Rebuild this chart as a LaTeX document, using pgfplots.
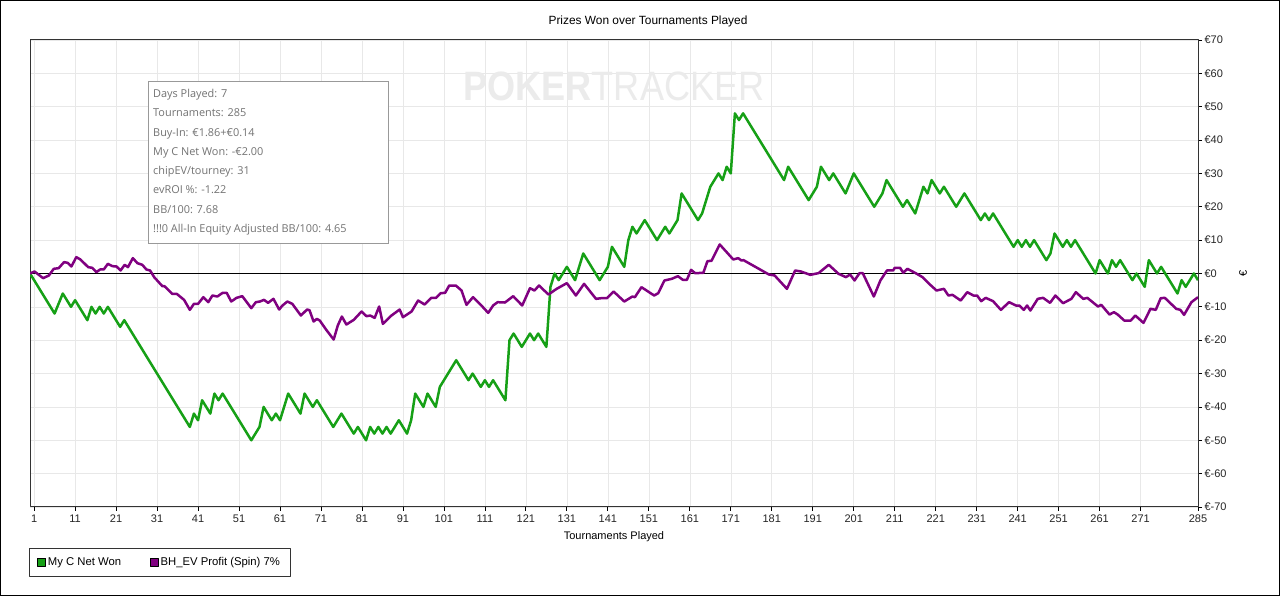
\documentclass[border=0pt]{standalone}
\usepackage{pgfplots}
\pgfplotsset{compat=1.18}
\usepackage{fontspec}
\setmainfont{Liberation Sans}
\newfontfamily\infofont{Open Sans}
\definecolor{pgreen}{RGB}{22,160,22}
\definecolor{ppurple}{RGB}{128,0,128}
\begin{document}
\begin{tikzpicture}[x=1pt,y=1pt]
\useasboundingbox (0,0) rectangle (1280,596);
\fill[white] (0,0) rectangle (1280,596);
\begin{axis}[
  at={(30pt,89pt)}, anchor=south west,
  scale only axis, width=1168pt, height=467pt,
  xmin=0, xmax=285, ymin=-70, ymax=70,
  xtick={1,11,21,31,41,51,61,71,81,91,101,111,121,131,141,151,161,171,181,191,201,211,221,231,241,251,261,271,285},
  ytick={-70,-60,-50,-40,-30,-20,-10,0,10,20,30,40,50,60,70},
  yticklabels={€-70,€-60,€-50,€-40,€-30,€-20,€-10,€0,€10,€20,€30,€40,€50,€60,€70},
  xtick pos=bottom, ytick pos=right, yticklabel pos=right,
  tick align=outside, major tick length=4pt,
  tick style={black, line width=0.8pt},
  /pgf/number format/assume math mode=true,
  ticklabel style={font=\fontsize{11}{13}\selectfont, text=black!85},
  xticklabel style={yshift=0pt},
  yticklabel style={xshift=-1pt},
  grid=major, grid style={color=black!9, line width=0.6pt},
  axis line style={draw=black!80, line width=1pt},
  xlabel={Tournaments Played},
  xlabel style={at={(axis description cs:0.5,-0.064)}, anchor=center, font=\fontsize{11}{13}\selectfont},
  ylabel={€},
  ylabel style={at={(axis description cs:1.0385,0.5)}, anchor=center, font=\fontsize{11}{13}\selectfont},
  legend columns=2,
  legend style={at={(0,0)}, anchor=north west, xshift=-1pt, yshift=-41pt,
    draw=black!80, line width=0.8pt, font=\fontsize{11.3}{13}\selectfont,
    inner xsep=8pt, inner ysep=7pt,
    /tikz/every even column/.append style={column sep=27pt}},
  legend image code/.code={\draw[#1, draw=black, line width=0.5pt, fill] (0pt,-4pt) rectangle (8pt,4pt);},
  line join=round,
]
% watermark
\node[text=black!8, anchor=center, inner sep=0] at (axis cs:142.5,56.2) {\fontsize{41}{41}\selectfont\scalebox{0.88}[1]{\textbf{POKER}TRACKER}};
\addplot[black, line width=1pt, forget plot] coordinates {(0,0) (285,0)};
\addplot[pgreen, line width=2.5pt] coordinates {
(0,0) (6,-12) (8,-6) (10,-10) (11,-8) (14,-14) (15,-10) (16,-12) (17,-10) (18,-12) (19,-10) (22,-16) (23,-14) (39,-46) (40,-42) (41,-44) (42,-38) (44,-42) (45,-36) (46,-38) (47,-36) (54,-50) (56,-46) (57,-40) (59,-44) (60,-42) (61,-44) (63,-36) (66,-42) (67,-36) (69,-40) (70,-38) (74,-46) (76,-42) (79,-48) (80,-46) (82,-50) (83,-46) (84,-48) (85,-46) (86,-48) (87,-46) (88,-48) (90,-44) (92,-48) (93,-44) (94,-36) (96,-40) (97,-36) (99,-40) (100,-34) (101,-32) (104,-26) (107,-32) (108,-30) (110,-34) (111,-32) (112,-34) (113,-32) (116,-38) (117,-20) (118,-18) (120,-22) (122,-18) (123,-20) (124,-18) (126,-22) (127,-4) (128,0) (129,-2) (131,2) (133,-2) (135,6) (139,-2) (141,2) (142,8) (145,2) (146,10) (147,14) (148,12) (150,16) (153,10) (155,14) (156,12) (158,16) (159,24) (163,16) (164,18) (166,26) (168,30) (169,28) (170,32) (171,30) (172,48) (173,46) (174,48) (184,28) (185,32) (190,22) (192,26) (193,32) (195,28) (196,30) (199,24) (201,30) (206,20) (208,24) (209,28) (213,20) (214,22) (216,18) (218,26) (219,24) (220,28) (222,24) (223,26) (226,20) (228,24) (232,16) (233,18) (234,16) (235,18) (240,8) (241,10) (242,8) (243,10) (244,8) (245,10) (248,4) (249,6) (250,12) (252,8) (253,10) (254,8) (255,10) (260,0) (261,4) (263,0) (264,4) (265,2) (266,4) (269,-2) (270,0) (272,-4) (273,4) (275,0) (276,2) (280,-6) (281,-2) (282,-4) (284,0) (285,-2)
};
\addlegendentry{My C Net Won}
\addplot[ppurple, line width=2.5pt] coordinates {
(0,0) (1.1,0.6) (3.2,-1.4) (4.6,-0.6) (5.8,1.4) (7,1.6) (8.3,3.4) (9.2,3.2) (10.1,2.1) (11.3,4.9) (12.3,4.2) (14.2,1.9) (15.2,1.7) (16.2,0.4) (17.1,1.2) (18,1.2) (19,2.9) (20.1,2.2) (21.1,2.1) (22.1,0.9) (23.1,2.6) (23.9,1.9) (25.1,4.6) (26.2,3.1) (27.4,2.6) (28.4,1.2) (29.3,0.9) (30.3,-1.1) (32.3,-3.8) (32.8,-3.8) (34.7,-6.1) (35.8,-6.1) (37.6,-7.9) (39,-10.9) (40,-9.1) (41,-9.1) (42.3,-7.1) (43.5,-8.6) (44.5,-6.6) (45.7,-6.9) (47,-5.8) (48,-5.8) (49.1,-8.4) (50.4,-7.3) (51.8,-6.8) (54,-10.4) (55.1,-8.6) (56.1,-8.4) (57.1,-7.9) (58.1,-8.8) (59.4,-7.6) (60.8,-10.8) (61.6,-9.6) (62.8,-8.4) (64,-9.1) (66.1,-12.6) (67.6,-10.8) (68.2,-11) (69.2,-14.4) (70,-13.6) (70.7,-14.1) (72.3,-16.9) (74.1,-19.8) (75.1,-15.6) (76.1,-12.9) (77.2,-15.3) (79,-13.9) (80.9,-11.4) (82.1,-12.8) (83,-12.6) (84.1,-13.3) (85.2,-9.9) (86.1,-15.1) (88.2,-12.6) (90.2,-10.8) (91,-13.1) (93.1,-11.4) (94.7,-8.1) (96.3,-9.3) (97.9,-7.3) (99.1,-7.3) (100.2,-5.9) (101.3,-5.8) (102.3,-3.6) (103.9,-3.6) (105.3,-5.1) (106.5,-9.4) (108.1,-7.1) (110,-9.4) (111.8,-11.8) (113,-9.6) (114.1,-8.6) (115.9,-8.7) (117.9,-6.8) (120.1,-9.6) (122,-4.4) (123.1,-5.1) (124.2,-3.6) (126.5,-6.3) (128.5,-4.6) (131,-2.9) (133.2,-6.6) (135.2,-3.1) (138.1,-7.6) (139.4,-7.4) (140.8,-7.4) (142.4,-5.4) (145,-8.4) (147,-6.9) (147.6,-7.1) (149.2,-4.1) (152.3,-6.6) (153.3,-5.9) (154.8,-2.1) (156.6,-1.6) (158.1,-0.8) (159.3,-1.9) (160.3,-1.9) (161.3,1.1) (162.3,0.1) (164.3,0.2) (165.3,3.7) (166.3,3.8) (168.3,8.7) (171.6,4.2) (172.8,4.6) (173.6,3.9) (174.1,4) (180.3,-0.3) (181.7,-0.6) (184.7,-4.6) (186.7,0.9) (188.1,0.6) (190.4,-0.4) (192.4,0.1) (194.9,2.6) (197.3,-0.1) (199.1,-1.1) (200.1,-0.3) (201.2,-2.1) (202.4,0.1) (203.2,0.1) (205.9,-6.9) (207.5,-2.1) (209.1,0.9) (210.6,0.9) (211,1.7) (212.3,1.7) (213.1,0.2) (214.1,1.4) (216.1,0.1) (217.8,-1.1) (219.4,-3.1) (221.2,-5.1) (223,-4.6) (224.1,-6.6) (225.1,-6.4) (227.1,-8.1) (228.7,-5.6) (230.2,-6.6) (231.1,-6.6) (232.1,-8.3) (233.2,-7.3) (235,-8.3) (236.9,-10.9) (238.9,-8.6) (240.6,-9.6) (241.4,-9.6) (242.5,-10.9) (243.3,-9.6) (244.1,-11.1) (245.9,-7.6) (247.2,-7.3) (248.9,-8.8) (250.2,-6.6) (252.1,-8.9) (254.1,-7.6) (255.2,-5.6) (257,-7.6) (258,-7.3) (260.6,-9.9) (261.4,-9.4) (263.4,-12.3) (264.5,-11.6) (265.4,-12.3) (267,-14.1) (268.6,-14.1) (269.7,-12.6) (271.7,-14.8) (273.4,-10.6) (274.7,-10.9) (275.9,-7.4) (276.9,-7.3) (279.7,-10.6) (280.7,-10.9) (281.6,-12.4) (283.4,-8.6) (285,-7.1)
};
\addlegendentry{BH\_EV Profit (Spin) 7\%}
\end{axis}
% title
\node[anchor=center, inner sep=0, font=\fontsize{11.9}{14}\selectfont] at (648,575) {Prizes Won over Tournaments Played};
% info box
\draw[black!40, line width=0.8pt, fill=white] (148.5,353) rectangle (388,515);
\node[anchor=north west, inner sep=0, align=left, text=black!55, font=\infofont\fontsize{10.9}{19.3}\selectfont] at (153,507) {Days Played: 7\\Tournaments: 285\\Buy-In: €1.86+€0.14\\My C Net Won: -€2.00\\chipEV/tourney: 31\\evROI \%: -1.22\\BB/100: 7.68\\!!!0 All-In Equity Adjusted BB/100: 4.65};
% outer frame
\draw[black, line width=1pt] (0.5,0.5) rectangle (1279.5,595.5);
\end{tikzpicture}
\end{document}
